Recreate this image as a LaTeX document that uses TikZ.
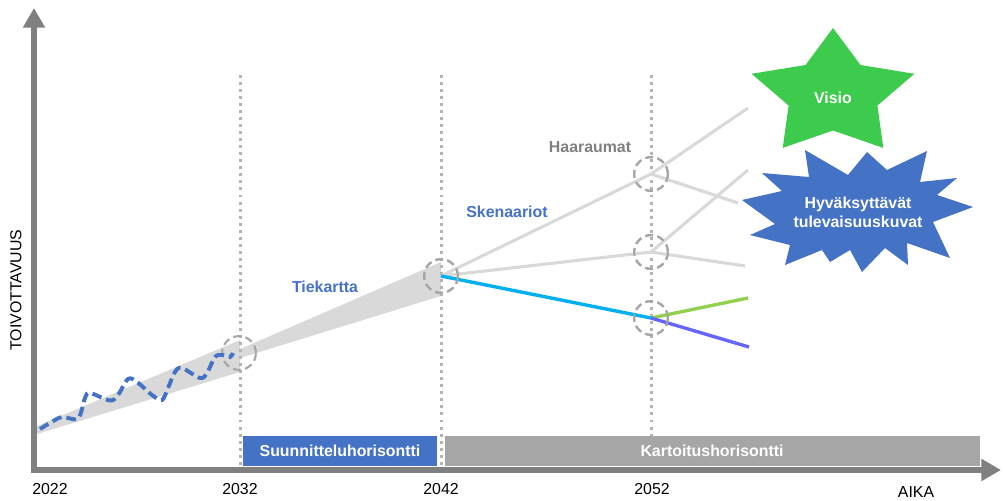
\documentclass[tikz,border=0pt]{standalone}
\usepackage{fontspec}
\setmainfont{Liberation Sans}
\usetikzlibrary{arrows.meta}
\definecolor{axisgray}{HTML}{808080}
\definecolor{conegray}{HTML}{D9D9D9}
\definecolor{dotgray}{HTML}{B4B4B4}
\definecolor{circgray}{HTML}{A6A6A6}
\definecolor{myblue}{HTML}{4472C4}
\definecolor{bargray}{HTML}{A6A6A6}
\definecolor{cyanline}{HTML}{00B0F0}
\definecolor{greenline}{HTML}{92D050}
\definecolor{purpleline}{HTML}{6666FF}
\definecolor{stargreen}{HTML}{3CCB4C}
\definecolor{labelgray}{HTML}{808080}
\begin{document}
\begin{tikzpicture}[x=0.025cm,y=-0.025cm,
  font=\fontsize{11.3}{13.5}\selectfont,
  axisline/.style={draw=axisgray, line width=4.3pt, -{Triangle[length=14pt,width=15pt]}},
  dotline/.style={draw=dotgray, line width=2.1pt, dash pattern=on 2.1pt off 2.9pt},
  ring/.style={circle, draw=circgray, line width=1.5pt, dash pattern=on 5.5pt off 3.2pt, minimum size=24pt, inner sep=0pt},
  gline/.style={draw=conegray, line width=2.2pt},
  cline/.style={line width=2.4pt},
  bartext/.style={text=white, font=\fontsize{11.3}{13.5}\selectfont\bfseries},
  lbl/.style={font=\fontsize{11.3}{13.5}\selectfont\bfseries},
  yearlbl/.style={inner sep=0pt}
]
\useasboundingbox (0,0) rectangle (1003,500);

% cones
\fill[conegray] (37,426) -- (240,340) -- (240,372) -- (37,434) -- cycle;
\fill[conegray] (240,349) -- (441,262) -- (441,296) -- (240,358) -- cycle;

% dotted year lines
\coordinate (d32t) at (240.5,75); \coordinate (d32b) at (240.5,467);
\coordinate (d42t) at (441.5,75); \coordinate (d42b) at (441.5,467);
\coordinate (d52t) at (651.5,75); \coordinate (d52b) at (651.5,467);
\draw[dotline] (d32t) -- (d32b);
\draw[dotline] (d42t) -- (d42b);
\draw[dotline] (d52t) -- (d52b);

% horizon bars
\fill[myblue] (243,436) rectangle (437,466);
\node[bartext] (plan) at (340,451) {Suunnitteluhorisontti};
\fill[bargray] (445,436) rectangle (980,466);
\node[bartext] (kart) at (712,451) {Kartoitushorisontti};

% axes
\coordinate (ybot) at (34,472);
\coordinate (ytop) at (34,8);
\coordinate (xl0) at (31,470);
\coordinate (xr) at (1001,470);
\draw[axisline] (ybot) -- (ytop);
\draw[axisline] (xl0) -- (xr);

% branch points
\node[ring] (r32) at (239,353) {};
\node[ring] (r42) at (441,276) {};
\node[ring] (r52a) at (651,174) {};
\node[ring] (r52b) at (651,252) {};
\node[ring] (r52c) at (651,318) {};

% branch ends
\coordinate (e1) at (748,108);
\coordinate (e2) at (738,203);
\coordinate (e3) at (748,170);
\coordinate (e4) at (745,266);
\coordinate (e5) at (748,298);
\coordinate (e6) at (749,347);

\draw[gline] (r42.center) -- (r52a.center) -- (e1);
\draw[gline] (r52a.center) -- (e2);
\draw[gline] (r42.center) -- (r52b.center) -- (e3);
\draw[gline] (r52b.center) -- (e4);
\draw[cline, cyanline] (r42.center) -- (r52c.center);
\draw[cline, greenline] (r52c.center) -- (e5);
\draw[cline, purpleline] (r52c.center) -- (e6);

% redraw rings on top
\node[ring] at (r42) {};
\node[ring] at (r52a) {};
\node[ring] at (r52b) {};
\node[ring] at (r52c) {};

% wavy history line
\draw[myblue, line width=2.8pt, dash pattern=on 7pt off 3.5pt]
  plot[smooth, tension=0.55] coordinates {(40,429) (50,423) (62,417) (78,418.5) (85,398) (90,393) (110,400.5) (118,395) (128,379) (137,382) (152,395) (162,400) (168,388) (175,372) (182,368) (200,378) (207,373) (215,357) (222,355) (230,357) (233,353)};

% labels
\node[lbl, text=myblue] (tiek) at (325,287) {Tiekartta};
\node[lbl, text=myblue] (sken) at (507,212) {Skenaariot};
\node[lbl, text=labelgray] (haar) at (590,147) {Haaraumat};

\node[rotate=90] (ylab) at (16,290) {TOIVOTTAVUUS};
\node (xlab) at (916,492) {AIKA};
\node (y22) at (50,489) {2022};
\node (y32) at (240,489) {2032};
\node (y42) at (441,489) {2042};
\node (y52) at (652,489) {2052};

% star
\fill[stargreen] (833,28) -- (805.5,65) -- (751.6,73.8) -- (788.6,105.5) -- (782.7,147.9)
  -- (833,130.5) -- (883.3,147.9) -- (877.4,105.5) -- (914.4,73.8) -- (860.5,65) -- cycle;
\node[lbl, text=white] (visio) at (833,98) {Visio};

% burst
\fill[myblue] (762,173) -- (809,177) -- (805,150) -- (848,175) -- (867,152) -- (887,170)
  -- (927,151) -- (920,182) -- (957,178) -- (937,195) -- (973,207) -- (933,222)
  -- (950,258) -- (907,243) -- (908,265) -- (885,248) -- (862,272) -- (850,250)
  -- (830,262) -- (822,250) -- (785,265) -- (790,245) -- (750,235) -- (775,224)
  -- (742,200) -- (782,191) -- cycle;
\node[lbl, text=white, align=center] (hyv) at (858,212.5) {Hyväksyttävät\\tulevaisuuskuvat};
\end{tikzpicture}
\end{document}
